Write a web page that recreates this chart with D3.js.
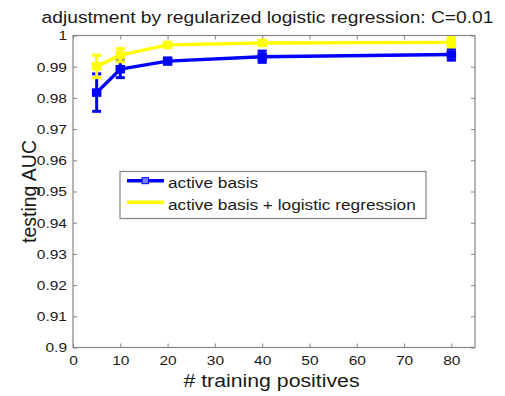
<!DOCTYPE html>
<html>
<head>
<meta charset="utf-8">
<script src="https://cdn.jsdelivr.net/npm/d3@7"></script>
<style>
  html, body { margin: 0; padding: 0; background: #fff; }
  svg { display: block; font-family: "Liberation Sans", Arial, sans-serif; }
</style>
</head>
<body>
<svg id="chart" width="505" height="396"></svg>
<script>
// Number of training positives
const trainingPositives = [5, 10, 20, 40, 80];

// Mean testing AUC and error half-widths for each method
const activeBasisAUC = [0.9817, 0.9892, 0.9918, 0.9932, 0.9939];
const activeBasisErr = [0.0060, 0.0027, 0.0010, 0.0018, 0.0018];
const logisticAUC = [0.9901, 0.9937, 0.9970, 0.9976, 0.9978];
const logisticErr = [0.0036, 0.0021, 0.0005, 0.0007, 0.0015];

const seriesNames = ["active basis", "active basis + logistic regression"];
const seriesColors = ["#0000ff", "#ffff00"];

const xTicks = [0, 10, 20, 30, 40, 50, 60, 70, 80];
const yTicks = [0.9, 0.91, 0.92, 0.93, 0.94, 0.95, 0.96, 0.97, 0.98, 0.99, 1];

const titleText = "adjustment by regularized logistic regression: C=0.01";
const xLabel = "# training positives";
const yLabel = "testing AUC";

const svg = d3.select("#chart");
const plotLeft = 73, plotRight = 475, plotTop = 35.5, plotBottom = 347.5;
const stretch = 1.15; // horizontal stretch applied to the lettering

const x = d3.scaleLinear().domain([0, 85]).range([plotLeft, plotRight]);
const y = d3.scaleLinear().domain([0.9, 1]).range([plotBottom, plotTop]);

const axisColor = "#858585";
const textColor = "#1a1a1a";

// Plot box
svg.append("rect")
  .attr("x", plotLeft).attr("y", plotTop)
  .attr("width", plotRight - plotLeft).attr("height", plotBottom - plotTop)
  .attr("fill", "#fff").attr("stroke", axisColor).attr("stroke-width", 1.2);

function styleAxis(g, labels) {
  g.select(".domain").remove();
  g.selectAll(".tick line").attr("stroke", axisColor).attr("stroke-width", 1);
  g.selectAll(".tick text")
    .attr("fill", textColor)
    .style("font-size", labels ? "13.5px" : "0px")
    .style("font-family", "'Liberation Sans', Arial, sans-serif")
    .attr("x", function () { return (+d3.select(this).attr("x") || 0) / stretch; })
    .attr("transform", `scale(${stretch},1)`);
}

// Axes with inward-pointing ticks on all four sides
svg.append("g").attr("transform", `translate(0,${plotBottom})`)
  .call(d3.axisBottom(x).tickValues(xTicks).tickSizeInner(-4).tickSizeOuter(0).tickPadding(8))
  .call(g => styleAxis(g, true));
svg.append("g").attr("transform", `translate(0,${plotTop})`)
  .call(d3.axisTop(x).tickValues(xTicks).tickSizeInner(-4).tickSizeOuter(0).tickFormat(""))
  .call(g => styleAxis(g, false));
svg.append("g").attr("transform", `translate(${plotLeft},0)`)
  .call(d3.axisLeft(y).tickValues(yTicks).tickSizeInner(-4).tickSizeOuter(0).tickPadding(6)
    .tickFormat(d => String(+d.toFixed(2))))
  .call(g => styleAxis(g, true));
svg.append("g").attr("transform", `translate(${plotRight},0)`)
  .call(d3.axisRight(y).tickValues(yTicks).tickSizeInner(-4).tickSizeOuter(0).tickFormat(""))
  .call(g => styleAxis(g, false));

// Series: line, error bars, square markers
const series = [
  { name: seriesNames[0], color: seriesColors[0], mean: activeBasisAUC, err: activeBasisErr },
  { name: seriesNames[1], color: seriesColors[1], mean: logisticAUC, err: logisticErr }
];

const line = d3.line().x(d => x(d.x)).y(d => y(d.v));
const capHalf = 4.5, markerW = 8, markerH = 7;

series.forEach(s => {
  const pts = trainingPositives.map((t, i) => ({ x: t, v: s.mean[i], e: s.err[i] }));
  const g = svg.append("g");
  g.append("path").datum(pts)
    .attr("d", line).attr("fill", "none")
    .attr("stroke", s.color).attr("stroke-width", 3.4)
    .attr("stroke-linejoin", "round");
  const eb = g.selectAll(".eb").data(pts).join("g");
  eb.append("line")
    .attr("x1", d => x(d.x)).attr("x2", d => x(d.x))
    .attr("y1", d => y(d.v - d.e)).attr("y2", d => y(d.v + d.e))
    .attr("stroke", s.color).attr("stroke-width", 3);
  [-1, 1].forEach(sign => {
    eb.append("line")
      .attr("x1", d => x(d.x) - capHalf).attr("x2", d => x(d.x) + capHalf)
      .attr("y1", d => y(d.v + sign * d.e)).attr("y2", d => y(d.v + sign * d.e))
      .attr("stroke", s.color).attr("stroke-width", 3);
  });
  eb.append("rect")
    .attr("x", d => x(d.x) - markerW / 2).attr("y", d => y(d.v) - markerH / 2)
    .attr("width", markerW).attr("height", markerH)
    .attr("fill", s.color).attr("stroke", s.color).attr("stroke-width", 1.5);
});

// Places a text anchored at (cx, cy); horizontal text gets the stretch
function label(parent, cx, cy, str, size, anchor, rotate) {
  return parent.append("text")
    .attr("transform", rotate
      ? `translate(${cx},${cy}) rotate(-90)`
      : `translate(${cx},${cy}) scale(${stretch},1)`)
    .attr("text-anchor", anchor).attr("fill", textColor)
    .style("font-size", size + "px").text(str);
}

// Legend
const lg = svg.append("g");
lg.append("rect")
  .attr("x", 120).attr("y", 171.5).attr("width", 306).attr("height", 47)
  .attr("fill", "#fff").attr("stroke", axisColor).attr("stroke-width", 1.2);
series.forEach((s, i) => {
  const ly = 180.7 + i * 21.6;
  lg.append("line")
    .attr("x1", 127).attr("x2", 164).attr("y1", ly).attr("y2", ly)
    .attr("stroke", s.color).attr("stroke-width", 3.4);
  if (i === 0) {
    lg.append("rect")
      .attr("x", 142).attr("y", ly - 3).attr("width", 6.5).attr("height", 6)
      .attr("fill", "#7080ff").attr("stroke", s.color).attr("stroke-width", 1);
  }
  label(lg, 168, ly + 7.3, s.name, 15, "start", false);
});

// Title and axis labels
label(svg, 267.5, 23, titleText, 16.7, "middle", false);
label(svg, 271.5, 387, xLabel, 18.5, "middle", false);
label(svg, 36, (plotTop + plotBottom) / 2, yLabel, 19.5, "middle", true);
</script>
</body>
</html>
